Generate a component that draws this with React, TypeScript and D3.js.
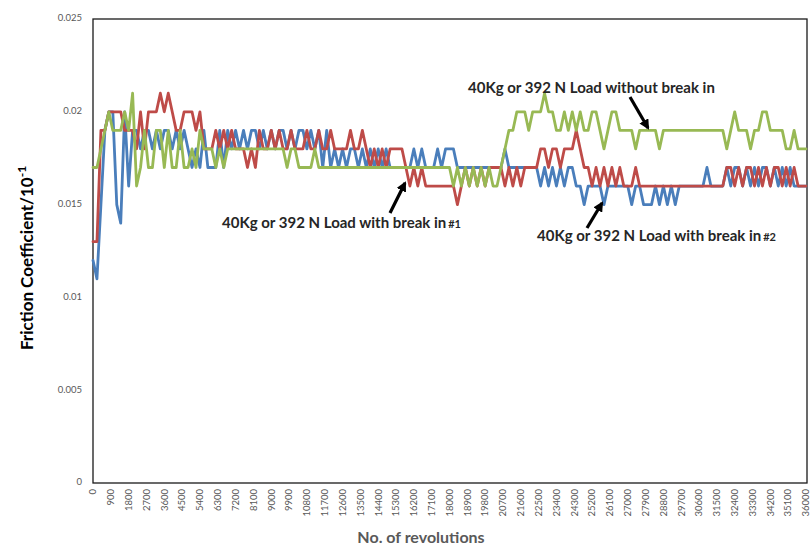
import React from "react";
import * as d3 from "d3";

// x categories: number of revolutions, one sample every 200 revs
const STEP = 200;
const xTickLabels = d3.range(0, 36001, 900);
const yTickLabels = [0, 0.005, 0.01, 0.015, 0.02, 0.025];

// Blue series (with break in #2)
const blueSeries = [
  0.012,0.011,0.015,0.019,0.020,0.020,0.015,0.014,0.020,0.016,
  0.019,0.019,0.018,0.019,0.019,0.018,0.019,0.018,0.019,0.019,
  0.018,0.019,0.018,0.019,0.018,0.017,0.018,0.017,0.019,0.017,
  0.017,0.017,0.019,0.017,0.019,0.018,0.019,0.018,0.019,0.018,
  0.019,0.019,0.018,0.019,0.018,0.019,0.018,0.019,0.019,0.018,
  0.019,0.018,0.019,0.019,0.018,0.019,0.018,0.019,0.017,0.019,
  0.017,0.018,0.017,0.018,0.017,0.018,0.018,0.017,0.018,0.017,
  0.018,0.017,0.018,0.017,0.018,0.017,0.017,0.017,0.017,0.017,
  0.017,0.018,0.017,0.018,0.017,0.017,0.017,0.018,0.017,0.018,
  0.018,0.018,0.017,0.017,0.017,0.017,0.017,0.017,0.017,0.017,
  0.017,0.017,0.017,0.017,0.018,0.017,0.017,0.017,0.017,0.017,
  0.017,0.017,0.017,0.016,0.017,0.016,0.017,0.016,0.017,0.016,
  0.017,0.017,0.016,0.016,0.015,0.016,0.016,0.016,0.016,0.015,
  0.016,0.016,0.016,0.016,0.016,0.016,0.015,0.016,0.016,0.015,
  0.015,0.015,0.016,0.015,0.016,0.015,0.016,0.015,0.016,0.016,
  0.016,0.016,0.016,0.016,0.016,0.017,0.016,0.016,0.016,0.016,
  0.017,0.016,0.017,0.017,0.016,0.017,0.016,0.017,0.016,0.017,
  0.017,0.016,0.017,0.016,0.017,0.016,0.017,0.016,0.016,0.016,
  0.016,
];

// Red series (with break in #1)
const redSeries = [
  0.013,0.013,0.019,0.019,0.020,0.020,0.020,0.020,0.019,0.019,
  0.019,0.018,0.020,0.018,0.020,0.020,0.020,0.021,0.020,0.021,
  0.020,0.019,0.019,0.020,0.020,0.020,0.019,0.020,0.018,0.018,
  0.018,0.019,0.018,0.019,0.018,0.019,0.018,0.018,0.018,0.017,
  0.018,0.017,0.019,0.018,0.018,0.019,0.018,0.019,0.018,0.018,
  0.019,0.018,0.018,0.018,0.019,0.018,0.018,0.019,0.018,0.018,
  0.019,0.018,0.018,0.018,0.018,0.019,0.018,0.018,0.019,0.018,
  0.017,0.018,0.017,0.018,0.017,0.018,0.018,0.018,0.018,0.017,
  0.016,0.017,0.016,0.017,0.016,0.016,0.016,0.016,0.016,0.016,
  0.016,0.016,0.015,0.016,0.017,0.016,0.017,0.016,0.017,0.016,
  0.017,0.017,0.017,0.017,0.016,0.017,0.016,0.017,0.016,0.017,
  0.017,0.017,0.017,0.018,0.018,0.017,0.018,0.018,0.017,0.018,
  0.018,0.018,0.019,0.018,0.017,0.017,0.016,0.017,0.016,0.017,
  0.016,0.017,0.016,0.017,0.016,0.016,0.016,0.017,0.016,0.016,
  0.016,0.016,0.016,0.016,0.016,0.016,0.016,0.016,0.016,0.016,
  0.016,0.016,0.016,0.016,0.016,0.016,0.016,0.016,0.016,0.016,
  0.017,0.017,0.016,0.017,0.016,0.017,0.017,0.016,0.017,0.016,
  0.017,0.016,0.017,0.017,0.016,0.017,0.016,0.017,0.016,0.016,
  0.016,
];

// Green series (without break in)
const greenSeries = [
  0.017,0.017,0.018,0.019,0.020,0.019,0.019,0.019,0.020,0.019,
  0.021,0.016,0.017,0.019,0.017,0.017,0.019,0.019,0.017,0.019,
  0.017,0.017,0.019,0.017,0.017,0.018,0.017,0.019,0.018,0.018,
  0.018,0.017,0.018,0.017,0.018,0.018,0.018,0.018,0.018,0.018,
  0.018,0.018,0.018,0.018,0.018,0.018,0.018,0.018,0.018,0.017,
  0.018,0.018,0.017,0.017,0.017,0.017,0.018,0.017,0.017,0.017,
  0.017,0.017,0.017,0.017,0.017,0.017,0.017,0.017,0.017,0.017,
  0.017,0.017,0.017,0.017,0.017,0.017,0.017,0.017,0.017,0.017,
  0.017,0.017,0.017,0.017,0.017,0.017,0.017,0.017,0.017,0.017,
  0.017,0.016,0.017,0.016,0.017,0.016,0.017,0.016,0.017,0.016,
  0.017,0.016,0.016,0.017,0.018,0.019,0.019,0.020,0.020,0.020,
  0.019,0.020,0.020,0.020,0.021,0.020,0.020,0.019,0.019,0.020,
  0.019,0.020,0.019,0.020,0.019,0.019,0.020,0.020,0.019,0.018,
  0.019,0.020,0.020,0.019,0.019,0.019,0.019,0.018,0.019,0.019,
  0.019,0.019,0.019,0.018,0.019,0.019,0.019,0.019,0.019,0.019,
  0.019,0.019,0.019,0.019,0.019,0.019,0.019,0.019,0.019,0.019,
  0.018,0.019,0.020,0.019,0.019,0.019,0.018,0.019,0.019,0.020,
  0.020,0.019,0.019,0.019,0.019,0.018,0.018,0.019,0.018,0.018,
  0.018,
];

const seriesList = [
  { name: "blue", values: blueSeries, color: "#4A7EBB" },
  { name: "red", values: redSeries, color: "#BE4B48" },
  { name: "green", values: greenSeries, color: "#98B954" },
];

const FONT = "Lato, 'Open Sans', 'DejaVu Sans', sans-serif";

export default function App() {
  const W = 811, H = 545;
  const left = 93, right = 807, top = 19, bottom = 483;
  const x = d3.scaleLinear().domain([0, 36000]).range([left, 806]);
  const y = d3.scaleLinear().domain([0, 0.025]).range([bottom, top]);
  const line = d3.line<number>().x((_, i) => x(i * STEP)).y((d) => y(d));

  return (
    <svg width={W} height={H} style={{ position: "absolute", left: 0, top: 0, background: "#fff" }}>
      <defs>
        <marker id="ah" viewBox="0 0 10 10" refX="8" refY="5" markerWidth="3.2" markerHeight="3.2" orient="auto-start-reverse">
          <path d="M0,0 L10,5 L0,10 z" fill="#000" />
        </marker>
      </defs>
      <rect x={0} y={0} width={W} height={H} fill="#fff" />
      {/* plot frame */}
      <rect x={left} y={top} width={right - left} height={bottom - top} fill="none" stroke="#1a1a1a" strokeWidth={1.3} />

      {/* y tick labels */}
      {yTickLabels.map((t) => (
        <text key={t} x={82} y={y(t)} textAnchor="end" dominantBaseline="middle" fontFamily={FONT} fontSize={9.5} fill="#595959">
          {String(t)}
        </text>
      ))}

      {/* x tick labels, rotated */}
      {xTickLabels.map((t) => (
        <text key={t} transform={`translate(${x(t) + 3.3},489) rotate(-90)`} textAnchor="end" fontFamily={FONT} fontSize={9.5} fill="#595959">
          {String(t)}
        </text>
      ))}

      {/* series */}
      {seriesList.map((s) => (
        <path key={s.name} d={line(s.values) || ""} fill="none" stroke={s.color} strokeWidth={2.8} strokeLinejoin="round" strokeLinecap="round" />
      ))}

      {/* axis titles */}
      <text x={421} y={543} textAnchor="middle" fontFamily={FONT} fontWeight="bold" fontSize={16} fill="#595959">
        No. of revolutions
      </text>
      <text transform="translate(33,258) rotate(-90)" textAnchor="middle" fontFamily={FONT} fontWeight="bold" fontSize={17} fill="#000">
        Friction Coefficient/10<tspan dy={-7} fontSize={12}>-1</tspan>
      </text>

      {/* annotations */}
      <text x={468} y={93} fontFamily={FONT} fontWeight="bold" fontSize={15} fill="#262626">
        40Kg or 392 N Load without break in
      </text>
      <text x={222} y={228} fontFamily={FONT} fontWeight="bold" fontSize={15} fill="#262626">
        40Kg or 392 N Load with break in<tspan fontSize={11} dx={2}>#1</tspan>
      </text>
      <text x={537} y={241} fontFamily={FONT} fontWeight="bold" fontSize={15} fill="#262626">
        40Kg or 392 N Load with break in<tspan fontSize={11} dx={2}>#2</tspan>
      </text>

      {/* arrows */}
      <line x1={630} y1={97} x2={648} y2={128} stroke="#000" strokeWidth={3.2} markerEnd="url(#ah)" />
      <line x1={390} y1={213} x2={405} y2={183} stroke="#000" strokeWidth={3.2} markerEnd="url(#ah)" />
      <line x1={587} y1={228} x2={602} y2={203} stroke="#000" strokeWidth={3.2} markerEnd="url(#ah)" />
    </svg>
  );
}
